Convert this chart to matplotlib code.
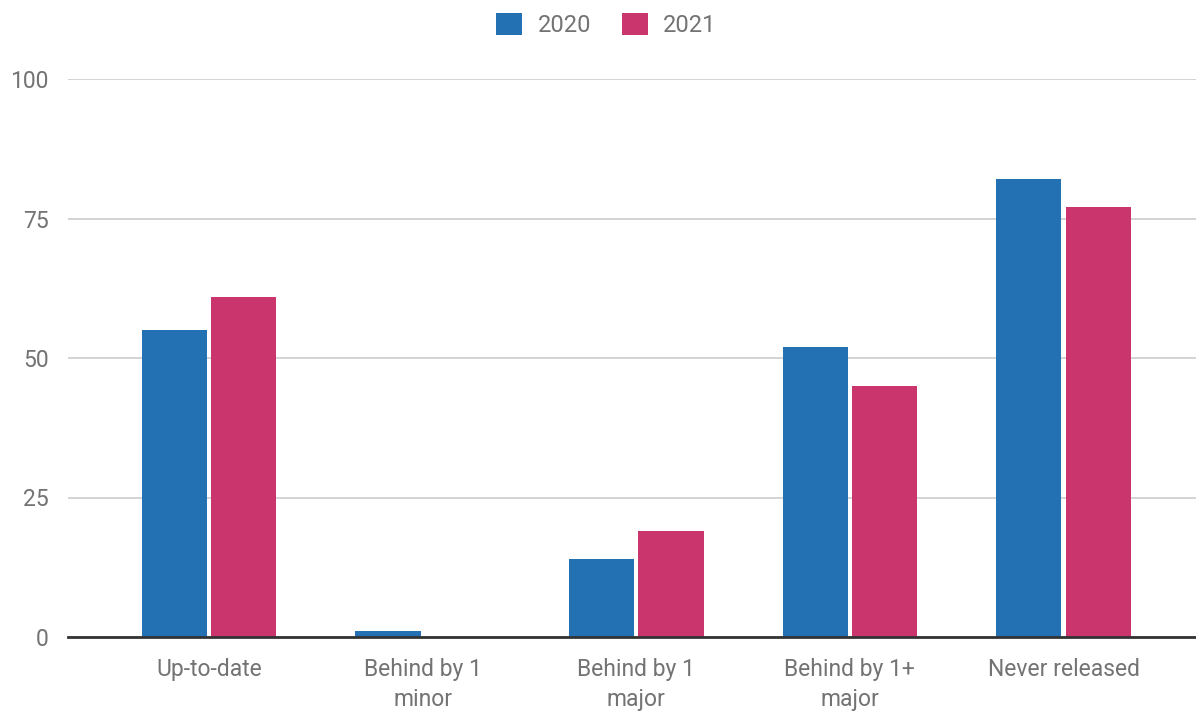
import matplotlib.pyplot as plt
import numpy as np

# Datos del gráfico
categorias = ['Up-to-date', 'Behind by 1\nminor', 'Behind by 1\nmajor', 'Behind by 1+\nmajor', 'Never released']
valores_2020 = [55, 1, 14, 52, 82]
valores_2021 = [61, 0, 19, 45, 77]
series = ['2020', '2021']

color_2020 = '#2371b2'
color_2021 = '#c9356c'
gris = '#737373'

plt.rcParams['font.family'] = ['Roboto', 'DejaVu Sans']

fig = plt.figure(figsize=(11.96, 7.13), dpi=100)
ax = fig.add_axes([68 / 1196, 1 - 637 / 713, 1 - 68 / 1196, (637 - 79) / 713])

x = np.arange(len(categorias))
ancho = 0.305
sep = 0.01
ax.bar(x - ancho / 2 - sep, valores_2020, ancho, color=color_2020, label=series[0], zorder=3)
ax.bar(x + ancho / 2 + sep, valores_2021, ancho, color=color_2021, label=series[1], zorder=3)

ax.set_ylim(0, 100)
ax.set_xlim(-0.66, 4.62)
ax.set_yticks([0, 25, 50, 75, 100])
ax.set_xticks(x)
ax.set_xticklabels(categorias, linespacing=1.4)
ax.grid(axis='y', color='#cccccc', linewidth=1.2, zorder=0)
for s in ['top', 'right', 'left']:
    ax.spines[s].set_visible(False)
ax.spines['bottom'].set_color('#333333')
ax.spines['bottom'].set_linewidth(2)
ax.spines['bottom'].set_zorder(4)
ax.tick_params(axis='both', length=0, labelsize=16.5, labelcolor=gris)
ax.tick_params(axis='y', pad=14)
ax.tick_params(axis='x', pad=15)

leg = fig.legend(loc='upper center', bbox_to_anchor=(0.507, 1.012), ncol=2, frameon=False,
                 fontsize=17, handlelength=1.1, handleheight=1.1, columnspacing=1.3,
                 handletextpad=0.65, labelcolor=gris)

fig.savefig('out.png', dpi=100)
